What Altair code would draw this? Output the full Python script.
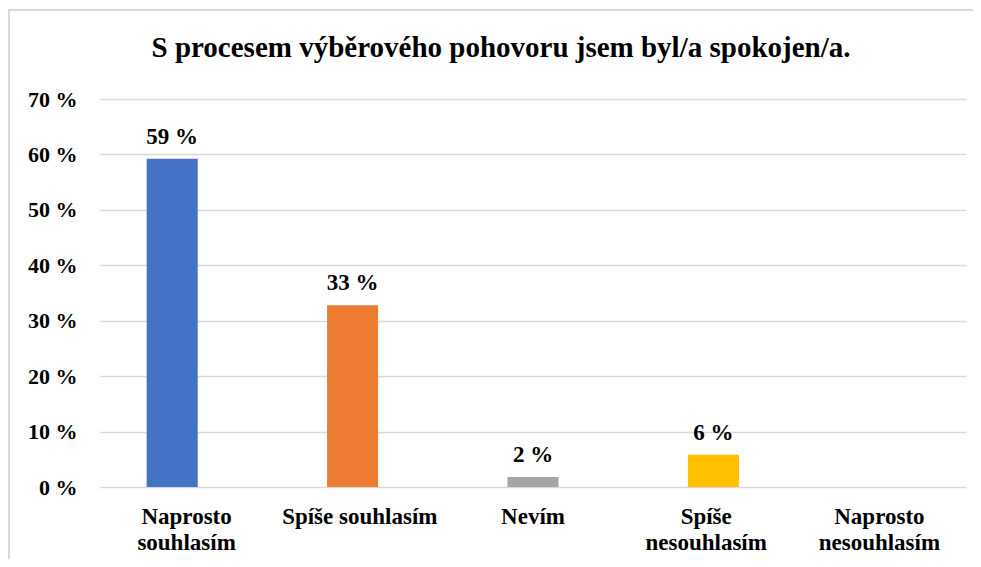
import altair as alt
import pandas as pd

title_text = "S procesem výběrového pohovoru jsem byl/a spokojen/a."
categories = ["Naprosto souhlasím", "Spíše souhlasím", "Nevím", "Spíše nesouhlasím", "Naprosto nesouhlasím"]
axis_labels = [["Naprosto", "souhlasím"], ["Spíše souhlasím"], ["Nevím"], ["Spíše", "nesouhlasím"], ["Naprosto", "nesouhlasím"]]
values = [59.2, 32.8, 1.8, 5.8, 0.0]
value_labels = ["59 %", "33 %", "2 %", "6 %", ""]
colors = ["#4472C4", "#ED7D31", "#A5A5A5", "#FFC000", "#5B9BD5"]
y_ticks = [0, 10, 20, 30, 40, 50, 60, 70]

df = pd.DataFrame({"cat": categories, "val": values, "lab": value_labels, "col": colors})
df_title = pd.DataFrame({"t": [title_text]})

label_expr = "{" + ", ".join(
    f"'{c}': [" + ", ".join(f"'{p}'" for p in parts) + "]" for c, parts in zip(categories, axis_labels)
) + "}[datum.value]"

FONT = "Liberation Serif"

# axis (label) scale: labels centred in five equal bands across the plot
x_axis = alt.X("cat:N", sort=categories, title=None,
               scale=alt.Scale(paddingInner=0.706, paddingOuter=0.353),
               axis=alt.Axis(labelAngle=0, labelExpr=label_expr, labelFont=FONT, labelFontSize=23,
                             labelFontWeight="bold", labelColor="#000000", labelPadding=18,
                             labelLineHeight=26, ticks=False, domain=False, labelBaseline="top",
                             grid=False))
# bar scale: bars sit slightly left of the label centres, as in the original
bar_scale = alt.Scale(range=[-18, 884], paddingInner=0.717, paddingOuter=0.3585)
x_bar = alt.X("cat:N", sort=categories, title=None, scale=bar_scale, axis=None)

y = alt.Y("val:Q", title=None,
          scale=alt.Scale(domain=[0, 70], nice=False),
          axis=alt.Axis(values=y_ticks, labelExpr="datum.value + ' %'", labelFont=FONT,
                        labelFontSize=22, labelFontWeight="bold", labelColor="#000000",
                        labelPadding=23, ticks=False, domain=False, gridColor="#D9D9D9",
                        gridWidth=1.5))

axis_layer = alt.Chart(df).mark_bar(opacity=0).encode(x=x_axis, y=y)
bars = alt.Chart(df).mark_bar().encode(x=x_bar, y=alt.Y("val:Q"), color=alt.Color("col:N", scale=None))
texts = alt.Chart(df).mark_text(font=FONT, fontSize=23, fontWeight="bold", dy=-10,
                                 baseline="bottom", color="#000000").encode(
    x=x_bar, y="val:Q", text="lab:N")

title_mark = alt.Chart(df_title).mark_text(font=FONT, fontSize=29, fontWeight="bold",
                                            color="#000000", baseline="alphabetic",
                                            align="center", clip=False).encode(
    x=alt.value(401), y=alt.value(-42), text="t:N")

frame_left = alt.Chart(df).mark_rule(color="#D9D9D9", strokeWidth=1.5, clip=False).encode(
    x=alt.value(-91), y=alt.value(-89), y2=alt.value(470))
frame_top = alt.Chart(df).mark_rule(color="#D9D9D9", strokeWidth=1.5, clip=False).encode(
    x=alt.value(-95), x2=alt.value(900), y=alt.value(-89))

chart = alt.layer(frame_left, frame_top, axis_layer, bars, texts, title_mark).resolve_scale(
    x="independent"
).properties(
    width=866, height=388,
    autosize=alt.AutoSizeParams(type="none"),
    padding={"left": 92, "top": 91, "right": 7, "bottom": 72},
).configure_view(stroke=None)

chart.save("out.html", embed_options={"renderer": "svg", "actions": False})
